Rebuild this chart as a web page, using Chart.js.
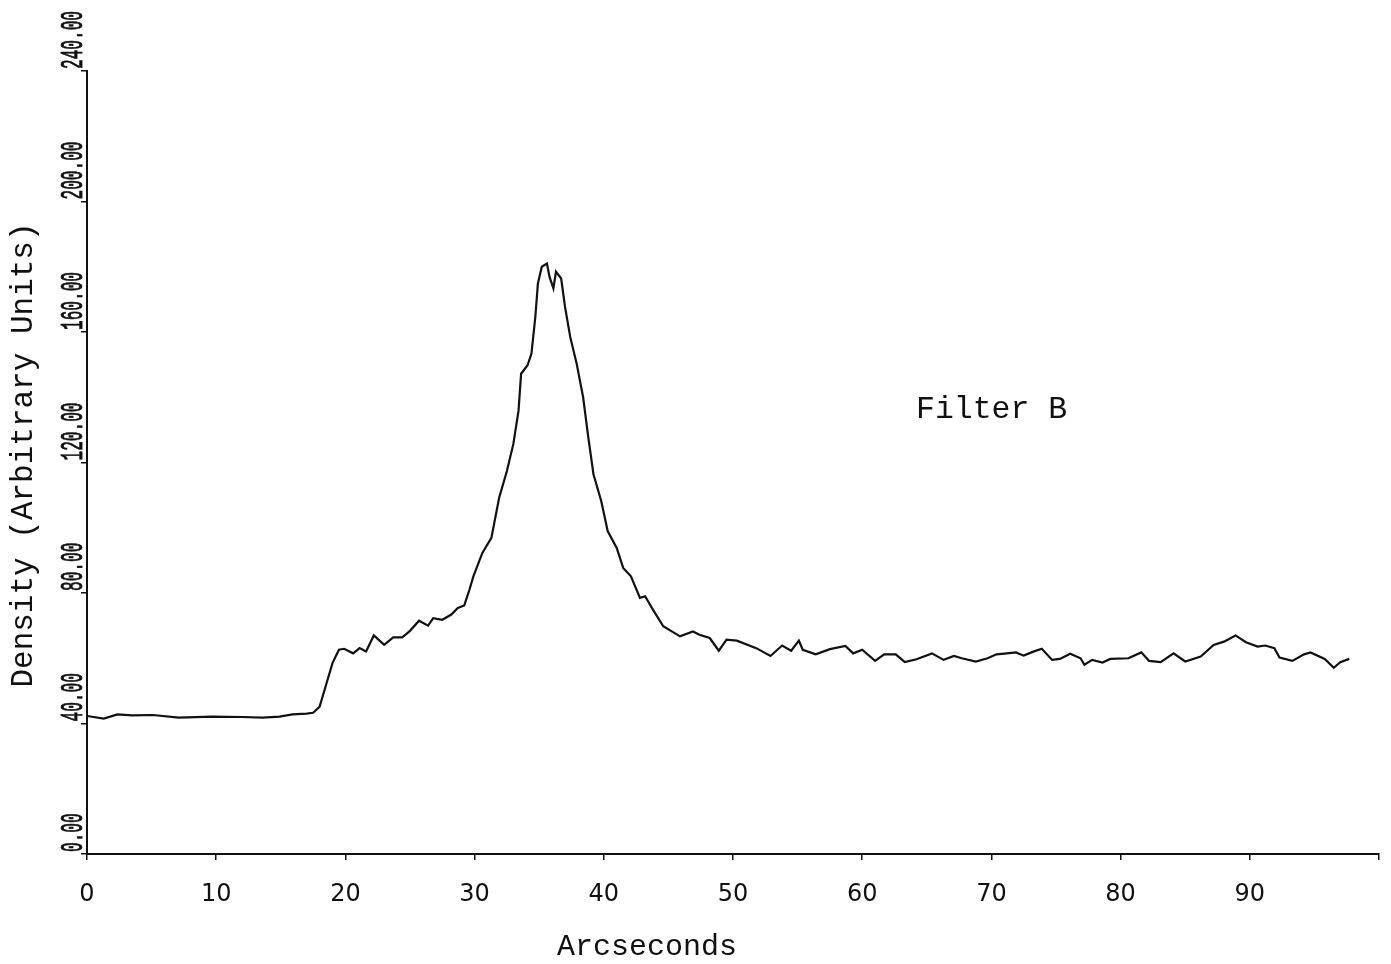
<!DOCTYPE html>
<html>
<head>
<meta charset="utf-8">
<script src="https://cdn.jsdelivr.net/npm/chart.js@4.4.1/dist/chart.umd.min.js"></script>
<style>
html,body{margin:0;padding:0;background:#fff;}
#wrap{width:1391px;height:964px;position:relative;}
</style>
</head>
<body>
<div id="wrap"><canvas id="c"></canvas></div>
<script>
// ---- data ----
const arcsec = [0,1.3,2.35,3.5,5.1,7.1,9.7,12,13.6,14.9,15.9,17.0,17.5,18.0,18.5,19.0,19.5,19.9,20.6,21.1,21.6,22.2,23.0,23.7,24.4,25.0,25.7,26.4,26.8,27.5,28.2,28.7,29.2,29.6,29.9,30.6,31.3,31.9,32.5,33.0,33.4,33.6,34.1,34.4,34.7,34.9,35.2,35.6,35.8,36.1,36.3,36.7,37.0,37.4,37.9,38.4,38.8,39.2,39.8,40.3,41.0,41.5,42.1,42.8,43.2,43.8,44.6,45.9,46.9,47.4,48.2,48.9,49.5,50.3,51.8,52.9,53.8,54.5,55.1,55.4,56.4,57.5,58.7,59.3,60.0,61.0,61.7,62.6,63.3,64.2,65.4,66.3,67.1,67.7,68.8,69.7,70.4,71.2,71.9,72.5,73.3,73.9,74.7,75.3,76.1,76.9,77.2,77.8,78.6,79.2,80.6,81.6,82.2,83.1,84.1,85.0,86.2,87.2,88.0,88.9,89.7,90.6,91.2,91.9,92.3,93.3,94.2,94.7,95.8,96.5,97.0,97.7];
const density = [42.3,41.5,42.8,42.5,42.6,41.8,42.1,42.0,41.8,42.1,42.8,43.0,43.3,45.1,51.8,58.5,62.6,62.9,61.5,63.1,62.1,67.0,64.1,66.4,66.4,68.4,71.5,70.0,72.3,71.8,73.4,75.4,76.2,81.0,85.0,92.3,96.9,109.2,117.4,125.7,135.9,147.2,149.8,153.4,164.6,174.9,180.0,181.0,176.9,173.4,178.5,176.4,167.7,158.5,150.3,140.0,127.7,116.4,108.2,99.0,93.8,87.7,85.1,78.5,79.0,74.9,69.8,66.7,68.2,67.2,66.2,62.3,65.7,65.4,63.1,60.7,63.9,62.3,65.4,62.6,61.2,62.8,63.8,61.5,62.6,59.2,61.2,61.2,58.8,59.7,61.5,59.5,60.7,60.0,59.0,60.0,61.2,61.5,61.8,60.8,62.1,62.9,59.5,59.8,61.4,60.0,58.0,59.5,58.7,59.8,60.0,61.8,59.2,58.8,61.5,59.0,60.5,64.1,65.1,67.0,64.9,63.6,63.9,63.1,60.2,59.2,61.2,61.8,59.8,57.1,58.8,59.8];

const xTickValues = [0,10,20,30,40,50,60,70,80,90];
const xTickLabels = ['0','10','20','30','40','50','60','70','80','90'];
const yTickValues = [0,40,80,120,160,200,240];
const yTickLabels = ['0.00','40.00','80.00','120.00','160.00','200.00','240.00'];
const xAxisTitle = 'Arcseconds';
const yAxisTitle = 'Density (Arbitrary Units)';
const annotationText = 'Filter B';

const INK = '#111';
const MONO = '"Liberation Mono", "DejaVu Sans Mono", monospace';

const textLayer = {
  id: 'textLayer',
  afterDraw(chart) {
    const ctx = chart.ctx;
    const ys = chart.scales.y;
    const ca = chart.chartArea;
    ctx.save();
    ctx.fillStyle = INK;
    ctx.strokeStyle = INK;
    // y tick labels: rotated, tall & narrow typewriter digits, starting at the tick
    ctx.font = '31px ' + MONO;
    ctx.textAlign = 'left';
    ctx.textBaseline = 'alphabetic';
    yTickValues.forEach((v, i) => {
      const py = ys.getPixelForValue(v);
      ctx.save();
      ctx.translate(ca.left - 5, py - 2);
      ctx.rotate(-Math.PI / 2);
      ctx.scale(0.52, 1);
      ctx.lineWidth = 0.9;
      ctx.fillText(yTickLabels[i], 0, 0);
      ctx.strokeText(yTickLabels[i], 0, 0);
      ctx.restore();
    });
    // y axis title
    ctx.save();
    ctx.font = '31px ' + MONO;
    ctx.textAlign = 'center';
    ctx.translate(32, 455);
    ctx.rotate(-Math.PI / 2);
    ctx.fillText(yAxisTitle, 0, 0);
    ctx.restore();
    // x axis title
    ctx.font = '30px ' + MONO;
    ctx.textAlign = 'left';
    ctx.fillText(xAxisTitle, 557, 955);
    // annotation
    ctx.font = '31.5px ' + MONO;
    ctx.fillText(annotationText, 916, 418);
    ctx.restore();
  }
};

const points = arcsec.map((x, i) => ({ x: x, y: density[i] }));

new Chart(document.getElementById('c'), {
  type: 'line',
  data: {
    datasets: [{
      data: points,
      borderColor: INK,
      borderWidth: 2.2,
      pointRadius: 0,
      tension: 0,
      fill: false
    }]
  },
  options: {
    responsive: true,
    maintainAspectRatio: false,
    animation: false,
    events: [],
    layout: { autoPadding: false, padding: { top: 71, left: 67, right: 12, bottom: 50 } },
    plugins: { legend: { display: false }, tooltip: { enabled: false }, title: { display: false } },
    scales: {
      x: {
        type: 'linear',
        min: 0, max: 100,
        afterBuildTicks(scale) { scale.ticks = xTickValues.concat([100]).map(v => ({ value: v })); },
        afterFit(scale) { scale.height = 60; scale.paddingLeft = 0; scale.paddingRight = 0; },
        ticks: {
          callback(v) { const i = xTickValues.indexOf(v); return i >= 0 ? xTickLabels[i] : ''; },
          color: INK,
          font: { family: '"DejaVu Sans", sans-serif', size: 24 },
          padding: 20,
          maxRotation: 0, minRotation: 0,
          autoSkip: false
        },
        grid: { drawOnChartArea: false, drawTicks: true, tickLength: 6, color: INK, lineWidth: 1.5 },
        border: { display: true, color: INK, width: 2 }
      },
      y: {
        type: 'linear',
        min: 0, max: 240,
        afterBuildTicks(scale) { scale.ticks = yTickValues.map(v => ({ value: v })); },
        afterFit(scale) { scale.width = 20; scale.paddingTop = 0; scale.paddingBottom = 0; },
        ticks: { display: false },
        grid: { drawOnChartArea: false, drawTicks: true, tickLength: 6, color: INK, lineWidth: 1.5 },
        border: { display: true, color: INK, width: 2 }
      }
    }
  },
  plugins: [textLayer]
});
</script>
</body>
</html>
